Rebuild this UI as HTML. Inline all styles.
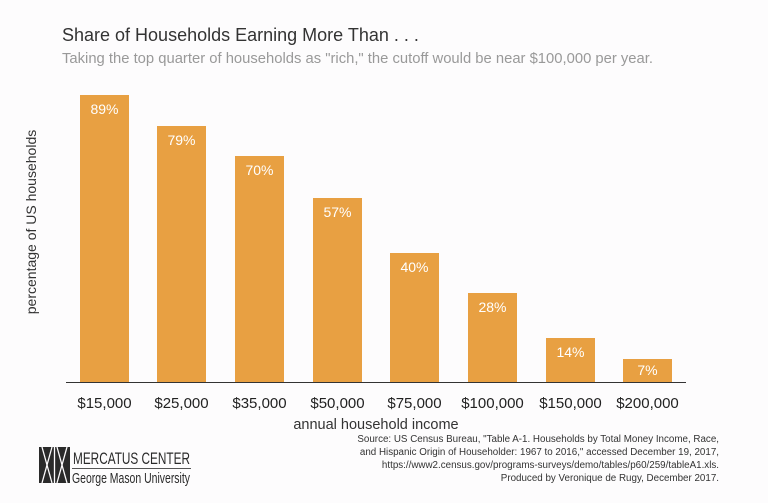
<!DOCTYPE html>
<html><head><meta charset="utf-8"><style>
body{margin:0;background:#fdfcfd;}
svg{display:block;font-family:"Liberation Sans",sans-serif;}
</style></head><body>
<svg width="768" height="503" xmlns="http://www.w3.org/2000/svg">
<rect width="768" height="503" fill="#fdfcfd"/>
<text x="62" y="41" font-size="18" fill="#333">Share of Households Earning More Than . . .</text>
<text x="62" y="63" font-size="14.8" fill="#999">Taking the top quarter of households as "rich," the cutoff would be near $100,000 per year.</text>
<text transform="translate(36,222) rotate(-90)" text-anchor="middle" font-size="14" fill="#333">percentage of US households</text>
<g fill="#E8A042">
<rect x="80" y="95" width="49" height="287"/>
<rect x="157" y="126" width="49" height="256"/>
<rect x="235" y="156" width="49" height="226"/>
<rect x="313" y="198" width="49" height="184"/>
<rect x="390" y="253" width="49" height="129"/>
<rect x="468" y="293" width="49" height="89"/>
<rect x="546" y="338" width="49" height="44"/>
<rect x="623" y="359" width="49" height="23"/>
</g>
<line x1="66" y1="382.5" x2="686" y2="382.5" stroke="#333" stroke-width="1"/>
<g fill="#fff" font-size="14" text-anchor="middle">
<text x="104.5" y="114">89%</text>
<text x="181.5" y="145">79%</text>
<text x="259.5" y="175">70%</text>
<text x="337.5" y="217">57%</text>
<text x="414.5" y="272">40%</text>
<text x="492.5" y="312">28%</text>
<text x="570.5" y="357">14%</text>
<text x="647.5" y="375">7%</text>
</g>
<g fill="#222" font-size="15" text-anchor="middle">
<text x="104.5" y="408">$15,000</text>
<text x="181.5" y="408">$25,000</text>
<text x="259.5" y="408">$35,000</text>
<text x="337.5" y="408">$50,000</text>
<text x="414.5" y="408">$75,000</text>
<text x="492.5" y="408">$100,000</text>
<text x="570.5" y="408">$150,000</text>
<text x="647.5" y="408">$200,000</text>
</g>
<text x="376" y="429" font-size="14.5" fill="#333" text-anchor="middle">annual household income</text>
<g fill="#333" font-size="9.8" text-anchor="end">
<text x="719" y="442">Source: US Census Bureau, "Table A-1. Households by Total Money Income, Race,</text>
<text x="719" y="455">and Hispanic Origin of Householder: 1967 to 2016," accessed December 19, 2017,</text>
<text x="719" y="468">https://www2.census.gov/programs-surveys/demo/tables/p60/259/tableA1.xls.</text>
<text x="719" y="481">Produced by Veronique de Rugy, December 2017.</text>
</g>
<g>
<rect x="39" y="447" width="31" height="36" fill="#2a2a2a"/>
<g stroke="#fdfcfd" stroke-width="1.3">
<line x1="42" y1="447" x2="52" y2="483"/><line x1="52" y1="447" x2="42" y2="483"/>
<line x1="57" y1="447" x2="67" y2="483"/><line x1="67" y1="447" x2="57" y2="483"/>
<line x1="54.5" y1="447" x2="54.5" y2="483"/>
</g>
<text x="73" y="464" font-size="17" fill="#2a2a2a" textLength="117" lengthAdjust="spacingAndGlyphs">MERCATUS CENTER</text>
<line x1="72" y1="468.5" x2="191" y2="468.5" stroke="#555" stroke-width="1"/>
<text x="72" y="483" font-size="15" fill="#2a2a2a" textLength="118" lengthAdjust="spacingAndGlyphs">George Mason University</text>
</g>
</svg>
</body></html>
